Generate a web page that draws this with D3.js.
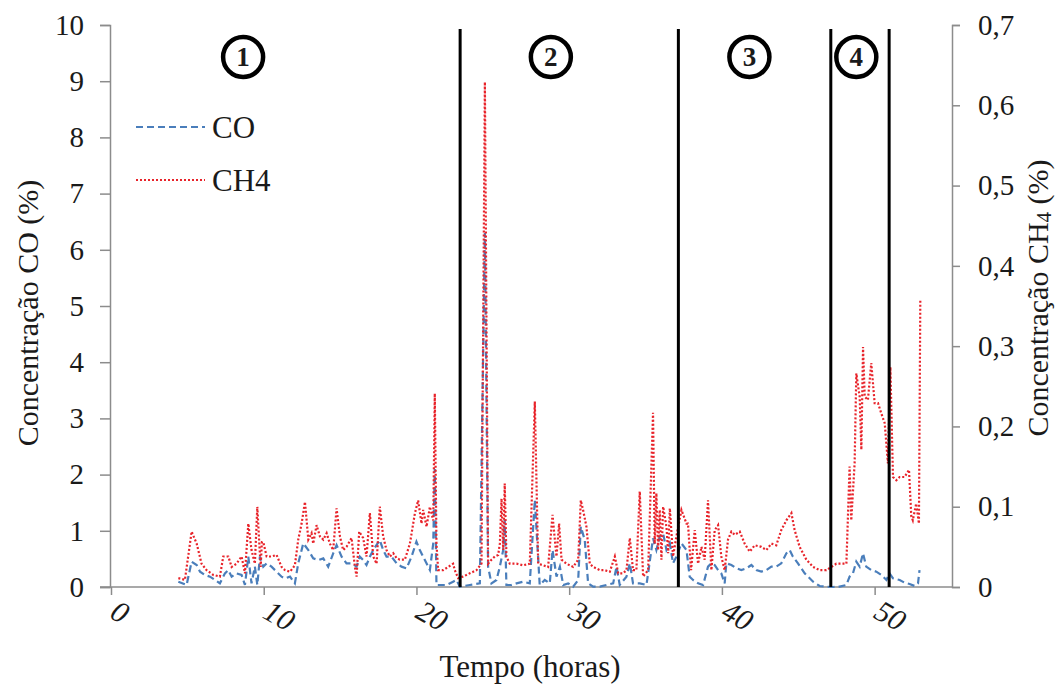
<!DOCTYPE html>
<html><head><meta charset="utf-8">
<script src="https://cdn.jsdelivr.net/npm/d3@7/dist/d3.min.js"></script>
<style>body{margin:0;background:#fff}svg{display:block}svg text{font-family:'Liberation Serif','DejaVu Serif','Times New Roman',serif !important;fill:#1a1a1a}</style>
</head><body><svg id="c" width="1060" height="689"></svg>
<script>
// ---- data ----
const coTime = [4.41,4.95,5.28,5.61,5.83,6.15,6.48,6.81,7.13,7.46,7.68,7.90,8.22,8.55,8.77,8.99,9.20,9.42,9.58,9.75,9.97,10.19,10.51,10.84,11.17,11.39,11.72,12.04,12.26,12.59,12.92,13.24,13.57,13.90,14.22,14.55,14.77,15.10,15.42,15.75,16.08,16.29,16.51,16.73,16.95,17.17,17.60,17.82,18.04,18.37,18.70,19.02,19.35,19.68,20.00,20.22,20.55,20.77,20.88,21.10,21.20,21.31,21.53,21.97,22.40,22.62,22.84,23.49,24.15,24.48,24.69,24.91,25.24,25.46,25.68,25.78,25.89,26.22,26.55,26.98,27.42,27.75,28.07,28.40,28.73,28.91,29.17,29.39,29.61,29.93,30.26,30.59,30.76,31.02,31.24,31.57,32.01,32.44,32.88,33.10,33.31,33.75,33.97,34.18,34.62,35.06,35.49,35.71,35.93,36.15,36.37,36.59,36.80,37.02,37.35,37.68,37.89,38.11,38.44,38.77,39.09,39.31,39.53,39.75,39.96,40.18,40.29,40.62,40.95,41.27,41.60,41.93,42.25,42.58,42.91,43.24,43.56,43.89,44.22,44.44,44.65,44.98,45.42,45.97,46.40,46.84,47.27,47.71,48.15,48.36,48.58,48.80,49.02,49.24,49.45,49.78,50.11,50.44,50.77,50.98,51.20,51.64,51.96,52.29,52.62,52.84,52.94];
const coValues = [0.095,0.036,0.451,0.391,0.273,0.214,0.184,0.125,0.065,0.243,0.302,0.184,0.243,0.214,0.036,0.540,0.065,0.362,0.036,0.540,0.362,0.421,0.362,0.273,0.184,0.154,0.184,0.065,0.421,0.777,0.658,0.510,0.480,0.510,0.362,0.599,0.747,0.540,0.421,0.421,0.362,0.540,0.480,0.391,0.540,0.658,0.836,0.658,0.540,0.540,0.421,0.362,0.332,0.540,0.807,0.658,0.480,0.362,0.302,0.777,2.1,0.036,0.036,0.036,0.095,0.125,0.006,0.036,0.065,6.3,0.362,0.065,0.125,0.362,0.658,1.2,0.036,0.036,0.065,0.095,0.065,1.55,0.036,0.125,0.065,0.658,0.184,0.362,0.036,0.065,0.006,0.125,1.074,0.836,0.065,0.006,0.006,0.036,0.065,0.362,0.036,0.184,0.421,0.065,0.065,0.036,0.866,0.658,0.896,0.955,0.658,0.777,0.421,0.540,0.777,0.658,0.184,0.125,0.065,0.036,0.362,0.421,0.391,0.302,0.243,0.065,0.421,0.391,0.332,0.302,0.332,0.391,0.302,0.273,0.302,0.362,0.362,0.421,0.599,0.658,0.540,0.421,0.243,0.095,0.018,0.006,0,0.006,0.036,0.184,0.243,0.451,0.362,0.599,0.362,0.302,0.273,0.214,0.125,0.243,0.154,0.125,0.077,0.053,0.018,0.065,0.302];
const ch4Time = [4.41,4.84,5.28,5.61,5.93,6.26,6.70,7.13,7.35,7.68,7.90,8.22,8.55,8.77,8.99,9.20,9.42,9.58,9.71,9.80,9.88,9.97,10.19,10.51,10.84,11.17,11.39,11.72,12.04,12.26,12.48,12.70,12.92,13.13,13.24,13.46,13.68,13.90,14.12,14.33,14.55,14.77,14.99,15.20,15.42,15.75,15.97,16.08,16.25,16.51,16.73,16.95,17.17,17.39,17.60,17.82,18.04,18.26,18.48,18.70,18.91,19.24,19.57,19.90,20.11,20.33,20.44,20.66,20.88,21.10,21.20,21.31,21.42,21.75,22.08,22.40,22.51,22.73,23.06,23.49,23.93,24.26,24.48,24.69,24.91,25.13,25.35,25.46,25.57,25.68,25.78,25.89,26.11,26.55,26.98,27.42,27.75,27.97,28.29,28.62,28.91,29.06,29.17,29.34,29.50,29.82,30.26,30.59,30.76,30.91,31.13,31.35,31.57,32.01,32.33,32.66,32.99,33.21,33.53,33.75,33.97,34.18,34.40,34.62,34.84,35.17,35.49,35.60,35.71,35.82,35.93,36.04,36.15,36.37,36.48,36.59,36.80,37.02,37.35,37.68,37.78,37.98,38.22,38.44,38.66,38.87,39.09,39.31,39.53,39.75,39.96,40.18,40.40,40.62,40.84,41.17,41.49,41.82,42.15,42.58,42.91,43.24,43.56,43.89,44.22,44.55,44.76,45.09,45.53,45.97,46.40,46.84,47.17,47.49,47.93,48.15,48.36,48.47,48.69,48.80,49.02,49.13,49.24,49.35,49.56,49.78,50.00,50.22,50.44,50.66,50.87,51.03,51.20,51.42,51.64,51.96,52.25,52.40,52.50,52.72,52.90,52.99];
const ch4Values = [0.011,0.009,0.069,0.054,0.029,0.021,0.015,0.013,0.038,0.038,0.025,0.029,0.038,0.017,0.079,0.046,0.029,0.100,0.054,0.025,0.056,0.056,0.038,0.038,0.040,0.025,0.021,0.019,0.027,0.059,0.079,0.106,0.059,0.067,0.054,0.077,0.063,0.059,0.067,0.054,0.046,0.098,0.063,0.046,0.050,0.061,0.025,0.013,0.069,0.061,0.038,0.092,0.038,0.029,0.100,0.063,0.046,0.038,0.042,0.036,0.034,0.034,0.054,0.092,0.108,0.079,0.096,0.075,0.100,0.083,0.241,0.054,0.021,0.021,0.025,0.029,0.021,0.011,0.013,0.017,0.021,0.029,0.629,0.029,0.034,0.038,0.040,0.054,0.110,0.046,0.129,0.038,0.029,0.029,0.027,0.029,0.231,0.029,0.027,0.025,0.090,0.059,0.038,0.079,0.034,0.029,0.025,0.034,0.108,0.096,0.075,0.029,0.025,0.021,0.021,0.019,0.038,0.017,0.017,0.021,0.061,0.021,0.021,0.119,0.013,0.021,0.217,0.054,0.117,0.046,0.096,0.034,0.100,0.075,0.042,0.098,0.038,0.063,0.096,0.079,0.079,0.021,0.071,0.029,0.050,0.034,0.108,0.021,0.071,0.077,0.038,0.021,0.059,0.069,0.065,0.069,0.054,0.044,0.052,0.050,0.046,0.054,0.052,0.071,0.083,0.092,0.071,0.050,0.034,0.025,0.021,0.021,0.025,0.029,0.029,0.029,0.150,0.083,0.154,0.266,0.237,0.171,0.299,0.237,0.233,0.279,0.229,0.229,0.216,0.204,0.154,0.274,0.137,0.133,0.137,0.137,0.146,0.088,0.083,0.104,0.079,0.357];
const xTicks = [0,10,20,30,40,50];
const yLeftTicks = [0,1,2,3,4,5,6,7,8,9,10];
const yRightTicks = [0,0.1,0.2,0.3,0.4,0.5,0.6,0.7];
const phaseBounds = [22.86,37.15,47.13,50.95];
const phaseLabels = ["1","2","3","4"];
const phaseLabelX = [8.65,28.8,41.8,48.8];
const seriesNames = ["CO","CH4"];

// ---- chart ----
const FONT = "'Liberation Serif','DejaVu Serif',serif";
const svg = d3.select("#c");
const x = d3.scaleLinear().domain([0,55]).range([111,951]);
const yL = d3.scaleLinear().domain([0,10]).range([587,25]);
const yR = d3.scaleLinear().domain([0,0.7]).range([587,25]);
const axisColor = "#8c8c8c";
const coColor = "#4a7ebb", ch4Color = "#e8232a";

// left axis
const gL = svg.append("g").attr("transform","translate(110,0)")
  .call(d3.axisLeft(yL).tickValues(yLeftTicks).tickSize(10).tickPadding(16).tickFormat(d3.format("d")));
// right axis
const gR = svg.append("g").attr("transform","translate(952,0)")
  .call(d3.axisRight(yR).tickValues(yRightTicks).tickSize(8).tickPadding(18).tickFormat(d=>d===0?"0":d3.format(".1f")(d).replace(".",",")));
// bottom axis
const gB = svg.append("g").attr("transform","translate(0,587)")
  .call(d3.axisBottom(x).tickValues(xTicks).tickSize(8).tickFormat(d3.format("d")));
gB.select(".domain").attr("d","M100,0H952");
[gL,gR,gB].forEach(g=>{
  g.attr("font-family",FONT);
  g.selectAll(".domain,line").attr("stroke",axisColor).attr("stroke-width",1.5);
  g.selectAll("text").attr("font-family",FONT).style("font-size","29px").attr("fill","#1a1a1a");
});
gB.selectAll("text").attr("y",0).attr("dy",0).attr("text-anchor","start")
  .style("font-style","italic").style("font-size","30px")
  .attr("transform","translate(-3,30) rotate(30)");

// series
const lineCO = d3.line().x((d,i)=>x(coTime[i])).y(d=>yL(d));
const lineCH4 = d3.line().x((d,i)=>x(ch4Time[i])).y(d=>yR(d));
svg.append("path").datum(coValues).attr("d",lineCO).attr("fill","none")
  .attr("stroke",coColor).attr("stroke-width",2.2).attr("stroke-dasharray","7,4");
svg.append("path").datum(ch4Values).attr("d",lineCH4).attr("fill","none")
  .attr("stroke",ch4Color).attr("stroke-width",2.2).attr("stroke-dasharray","2,2");

// phase boundaries
svg.append("g").selectAll("line").data(phaseBounds).join("line")
  .attr("x1",d=>x(d)).attr("x2",d=>x(d)).attr("y1",29).attr("y2",587)
  .attr("stroke","#000").attr("stroke-width",3);

// phase labels
const pg = svg.append("g").selectAll("g").data(phaseLabels).join("g")
  .attr("transform",(d,i)=>`translate(${x(phaseLabelX[i])},57)`);
pg.append("circle").attr("r",20).attr("fill","#fff").attr("stroke","#000").attr("stroke-width",4.5);
pg.append("text").attr("text-anchor","middle").attr("dy","0.35em").attr("font-family",FONT)
  .style("font-size","27px").style("font-weight","bold").text(d=>d);

// legend
const leg = svg.append("g");
seriesNames.forEach((n,i)=>{
  const yy = 127 + i*53;
  leg.append("line").attr("x1",136).attr("x2",205).attr("y1",yy).attr("y2",yy)
    .attr("stroke",i===0?coColor:ch4Color).attr("stroke-width",2.2)
    .attr("stroke-dasharray",i===0?"7,4":"2,2");
  leg.append("text").attr("x",212).attr("y",yy).attr("dy","0.35em").attr("font-family",FONT).style("font-size","31px").text(n);
});

// axis titles
svg.append("text").attr("transform","translate(38,313) rotate(-90)").attr("text-anchor","middle")
  .attr("font-family",FONT).style("font-size","30px").text("Concentração CO (%)");
const rt = svg.append("text").attr("transform","translate(1048,298) rotate(-90)").attr("text-anchor","middle")
  .attr("font-family",FONT).style("font-size","30px");
rt.append("tspan").text("Concentração CH");
rt.append("tspan").text("4").style("font-size","21px").attr("dy","3");
rt.append("tspan").text(" (%)").attr("dy","-3");
svg.append("text").attr("x",530).attr("y",677).attr("text-anchor","middle")
  .attr("font-family",FONT).style("font-size","31px").text("Tempo (horas)");
</script></body></html>
